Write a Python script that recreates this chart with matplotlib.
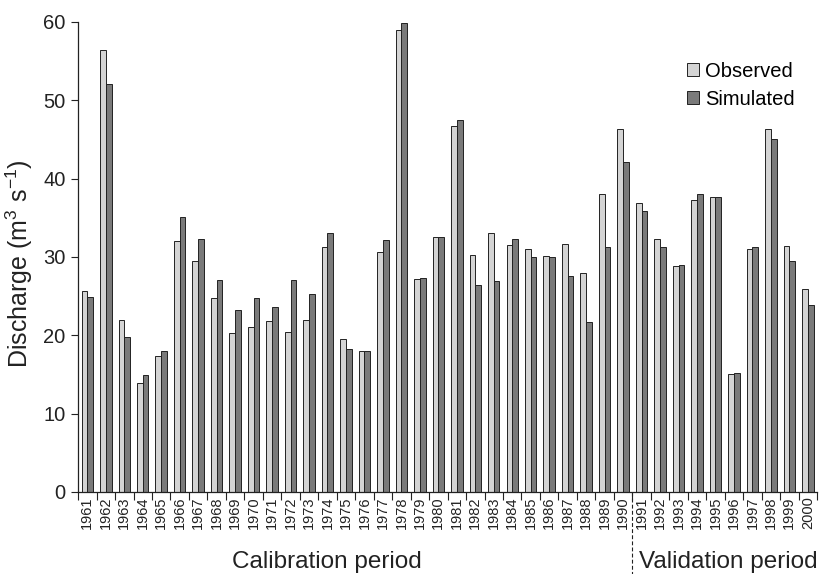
import numpy as np
import matplotlib
matplotlib.use('Agg')
import matplotlib.pyplot as plt
import matplotlib.transforms as mtransforms

plt.rcParams['font.family'] = ['Liberation Sans', 'DejaVu Sans']
plt.rcParams['mathtext.fontset'] = 'custom'
plt.rcParams['mathtext.rm'] = 'Liberation Sans'

# annual mean discharge, observed vs simulated
years = [str(y) for y in range(1961, 2001)]
observed = [25.7, 56.4, 21.9, 13.9, 17.4, 32.0, 29.5, 24.8, 20.3, 21.1,
            21.8, 20.4, 21.9, 31.2, 19.5, 18.0, 30.6, 58.9, 27.2, 32.5,
            46.7, 30.2, 33.1, 31.5, 31.0, 30.1, 31.7, 27.9, 38.0, 46.3,
            36.9, 32.3, 28.8, 37.2, 37.6, 15.1, 31.0, 46.3, 31.4, 25.9]
simulated = [24.9, 52.0, 19.8, 14.9, 18.0, 35.1, 32.3, 27.1, 23.2, 24.7,
             23.6, 27.1, 25.3, 33.1, 18.2, 18.0, 32.1, 59.8, 27.3, 32.5,
             47.5, 26.4, 26.9, 32.3, 30.0, 30.0, 27.5, 21.7, 31.2, 42.1,
             35.9, 31.2, 28.9, 38.0, 37.7, 15.2, 31.2, 45.0, 29.5, 23.9]
n_calib = 30  # 1961-1990 calibration, 1991-2000 validation

ink = '#222222'
fig = plt.figure(figsize=(8.22, 5.74), dpi=100)
ax = fig.add_axes([0.095, 0.143, 0.899, 0.819])

x = np.arange(len(years))
w = 0.31
ax.bar(x - w/2, observed, w, color='#d4d4d4', edgecolor=ink, linewidth=0.7, label='Observed')
ax.bar(x + w/2, simulated, w, color='#7a7a7a', edgecolor=ink, linewidth=0.7, label='Simulated')

ax.set_xlim(-0.5, len(years) - 0.5)
ax.set_ylim(0, 60)
ax.set_yticks(range(0, 61, 10))
ax.tick_params(axis='y', labelsize=14.5, length=5, width=0.8, colors=ink, pad=4)

# year labels at bar centres, separator ticks at category edges
ax.set_xticks(x)
ax.set_xticklabels(years, rotation=90, fontsize=10.5, color=ink)
ax.tick_params(axis='x', which='major', length=0, pad=3)
ax.set_xticks(np.arange(-0.5, len(years), 1), minor=True)
ax.tick_params(axis='x', which='minor', length=6, width=0.8, color=ink)

for s in ['top', 'right']:
    ax.spines[s].set_visible(False)
for s in ['left', 'bottom']:
    ax.spines[s].set_linewidth(0.9)
    ax.spines[s].set_color(ink)

ax.set_ylabel('Discharge (m$^3$ s$^{-1}$)', fontsize=18, color=ink)
ax.yaxis.set_label_coords(-0.058, 0.485)

trans = mtransforms.blended_transform_factory(ax.transData, ax.transAxes)
split = n_calib - 0.5
ax.plot([split, split], [0, -0.18], transform=trans, color=ink,
        linestyle=(0, (3.5, 2)), linewidth=0.8, clip_on=False)
ax.text(0.336, -0.162, 'Calibration period', transform=ax.transAxes,
        ha='center', va='baseline', fontsize=17.5, color=ink)
ax.text(split + 0.35, -0.162, 'Validation period', transform=trans,
        ha='left', va='baseline', fontsize=17.5, color=ink)

ax.legend(loc='upper right', bbox_to_anchor=(0.97, 0.915), frameon=False, fontsize=14.5,
          borderaxespad=0, borderpad=0, handlelength=0.6, handleheight=0.6,
          handletextpad=0.3, labelspacing=0.45)

fig.savefig('out.png', dpi=100)
plt.close()
